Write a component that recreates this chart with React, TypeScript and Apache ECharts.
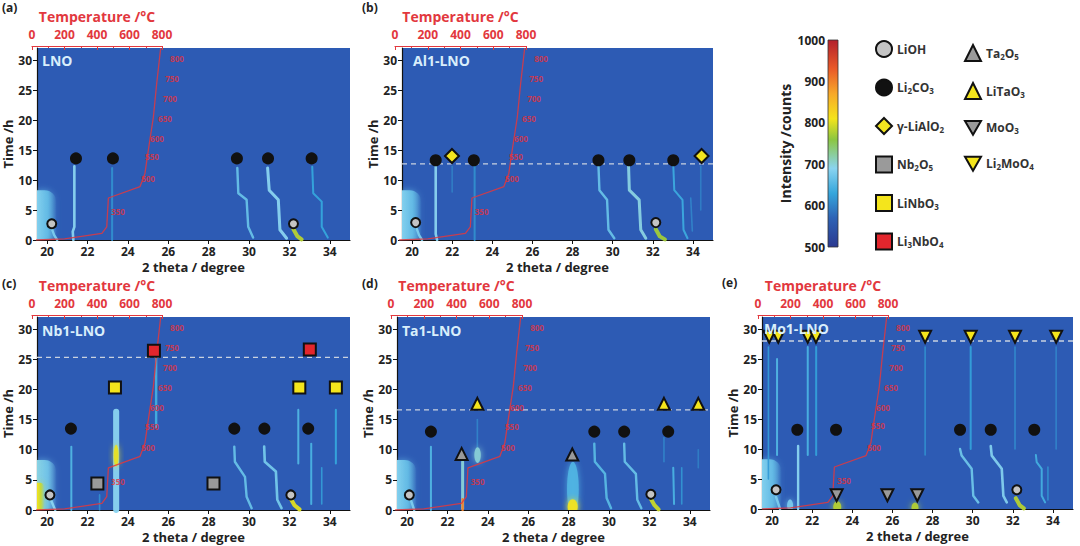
import React, { useEffect, useRef } from "react";
import * as echarts from "echarts";

type Pt = [number, number];
type Trace = { i: number; fw: number; pts: Pt[] };
type Blob = [number, number, number, number, number];

// ---------- axes ----------
const THETA_MIN = 19.5;
const THETA_MAX = 35;
const TIME_MAX = 32;
const THETA_TICKS = [20, 22, 24, 26, 28, 30, 32, 34];
const TIME_TICKS = [0, 5, 10, 15, 20, 25, 30];
const TEMP_MAX = 800;
const TEMP_INTERVAL = 200;
const CB_MIN = 500;
const CB_MAX = 1000;
const CB_INTERVAL = 100;

// ---------- panels ----------
const PANEL_LETTERS = ["(a)", "(b)", "(c)", "(d)", "(e)"];
const SAMPLES = ["LNO", "Al1-LNO", "Nb1-LNO", "Ta1-LNO", "Mo1-LNO"];
const DASH_TIMES: (number | null)[] = [null, 12.7, 25.3, 16.6, 28.0];

// heating profile: [temperature °C, time h]
const TEMP_PROFILE: Pt[] = [
  [25, 0], [200, 0.2], [430, 1.1], [460, 2.2], [470, 7], [665, 8.9],
  [695, 11.1], [716, 15], [747, 20.5], [767, 26], [792, 32],
];
const STEP_LABELS = ["350", "500", "550", "600", "650", "700", "750", "800"];
const STEP_POS: Pt[] = [
  [529, 4.7], [714, 10.3], [738, 13.9], [769, 17], [818, 20.3], [849, 23.6], [862, 27], [892, 30.3],
];

// diffraction traces [2theta, time], i = intensity (counts), fw = peak width (deg)
const tracesA: Trace[] = [
  { i: 690, fw: 0.13, pts: [[21.35, 12.3], [21.35, 2.2], [21.27, 1.4], [21.3, 0]] },
  { i: 610, fw: 0.1, pts: [[23.22, 12], [23.22, 0]] },
  { i: 665, fw: 0.12, pts: [[29.42, 12], [29.47, 7.8], [29.88, 6.7], [29.96, 2.2], [30.2, 0.4]] },
  { i: 690, fw: 0.15, pts: [[30.92, 12], [31.0, 8.3], [31.45, 6.7], [31.53, 1.7], [31.86, 0.3]] },
  { i: 630, fw: 0.1, pts: [[33.13, 12.2], [33.18, 7.8], [33.6, 6.4], [33.6, 2.2], [33.9, 0.4]] },
  { i: 680, fw: 0.12, pts: [[20.2, 2.2], [20.35, 0.8], [20.5, 0]] },
  { i: 780, fw: 0.2, pts: [[32.2, 1.8], [32.4, 0.6], [32.6, 0.1]] },
];
const blobsA: Blob[] = [[19.5, 20.45, 0, 8.3, 665]];

const tracesB: Trace[] = [
  { i: 690, fw: 0.13, pts: [[21.18, 12.3], [21.18, 1], [21.25, 0]] },
  { i: 595, fw: 0.08, pts: [[22.0, 12.3], [22.0, 8]] },
  { i: 610, fw: 0.1, pts: [[23.12, 12.3], [23.12, 0]] },
  { i: 665, fw: 0.12, pts: [[29.29, 12.5], [29.34, 8.3], [29.72, 6.7], [29.79, 1.7], [30.08, 0.3]] },
  { i: 695, fw: 0.15, pts: [[30.79, 12.5], [30.83, 8.3], [31.32, 6.7], [31.4, 1.7], [31.65, 0.3]] },
  { i: 635, fw: 0.1, pts: [[33.02, 12.5], [33.07, 8.3], [33.48, 6.7], [33.53, 1.7], [33.73, 0.3]] },
  { i: 600, fw: 0.08, pts: [[33.89, 7], [33.97, 1.5]] },
  { i: 595, fw: 0.08, pts: [[34.39, 12.3], [34.39, 5]] },
  { i: 680, fw: 0.12, pts: [[20.2, 2.2], [20.35, 0.8], [20.5, 0]] },
  { i: 770, fw: 0.2, pts: [[32.15, 1.8], [32.35, 0.6], [32.6, 0.1]] },
];
const blobsB: Blob[] = [[19.5, 20.45, 0, 8.3, 665]];

const tracesC: Trace[] = [
  { i: 650, fw: 0.1, pts: [[21.2, 10.5], [21.2, 0]] },
  { i: 610, fw: 0.08, pts: [[22.6, 2.5], [22.6, 0]] },
  { i: 690, fw: 0.3, pts: [[23.42, 16.3], [23.42, 0]] },
  { i: 640, fw: 0.12, pts: [[25.4, 25.2], [25.4, 13.8]] },
  { i: 665, fw: 0.12, pts: [[29.27, 10.5], [29.3, 8], [29.8, 5.5], [29.88, 2.2], [30.13, 0.3]] },
  { i: 675, fw: 0.13, pts: [[30.75, 10.5], [30.78, 8], [31.33, 6.4], [31.4, 1.7], [31.61, 0.3]] },
  { i: 650, fw: 0.1, pts: [[32.44, 16.6], [32.44, 7.7]] },
  { i: 645, fw: 0.1, pts: [[33.08, 11], [33.08, 1]] },
  { i: 620, fw: 0.08, pts: [[33.6, 7], [33.6, 1]] },
  { i: 630, fw: 0.1, pts: [[34.3, 16.6], [34.3, 7.7]] },
  { i: 690, fw: 0.12, pts: [[20.15, 2], [20.4, 0]] },
  { i: 800, fw: 0.2, pts: [[32.05, 2], [32.25, 0.8], [32.5, 0.1]] },
];
const blobsC: Blob[] = [[19.5, 20.45, 0, 8.3, 675], [19.5, 19.85, 0, 4.5, 790], [23.3, 23.54, 7.2, 10.8, 805]];

const tracesD: Trace[] = [
  { i: 650, fw: 0.1, pts: [[21.18, 10.5], [21.18, 0]] },
  { i: 700, fw: 0.15, pts: [[22.75, 8], [22.75, 0.3]] },
  { i: 900, fw: 0.12, pts: [[22.75, 1.8], [22.75, 0]] },
  { i: 600, fw: 0.08, pts: [[23.48, 15], [23.48, 10]] },
  { i: 655, fw: 0.12, pts: [[29.27, 11], [29.3, 8], [29.8, 6], [29.88, 2], [30.1, 0.3]] },
  { i: 665, fw: 0.12, pts: [[30.75, 11], [30.78, 8], [31.33, 6], [31.4, 1.7], [31.6, 0.3]] },
  { i: 600, fw: 0.08, pts: [[32.72, 12], [32.72, 8]] },
  { i: 645, fw: 0.1, pts: [[33.18, 7], [33.22, 1]] },
  { i: 615, fw: 0.08, pts: [[33.6, 7], [33.6, 1]] },
  { i: 595, fw: 0.08, pts: [[34.42, 10], [34.42, 7]] },
  { i: 680, fw: 0.12, pts: [[20.15, 2], [20.35, 0]] },
  { i: 790, fw: 0.2, pts: [[32.05, 2], [32.25, 0.8], [32.45, 0.1]] },
];
const blobsD: Blob[] = [
  [19.5, 20.45, 0, 8.3, 665], [23.33, 23.65, 7.8, 10.4, 700], [27.92, 28.5, -1, 8, 650], [27.95, 28.45, -0.8, 1.8, 810],
];

const tracesE: Trace[] = [
  { i: 620, fw: 0.08, pts: [[19.82, 27], [19.82, 5]] },
  { i: 650, fw: 0.1, pts: [[20.25, 25], [20.25, 9]] },
  { i: 690, fw: 0.12, pts: [[21.3, 10.5], [21.3, 0]] },
  { i: 645, fw: 0.1, pts: [[21.78, 27], [21.78, 9]] },
  { i: 625, fw: 0.1, pts: [[22.2, 27], [22.2, 9]] },
  { i: 610, fw: 0.08, pts: [[27.63, 27], [27.63, 9]] },
  { i: 625, fw: 0.1, pts: [[29.9, 27], [29.9, 10]] },
  { i: 605, fw: 0.08, pts: [[32.11, 27], [32.11, 10]] },
  { i: 600, fw: 0.08, pts: [[34.16, 27], [34.16, 10]] },
  { i: 670, fw: 0.12, pts: [[29.37, 10], [29.45, 8.9], [29.95, 6.7], [30.03, 2.2], [30.28, 1.1]] },
  { i: 685, fw: 0.13, pts: [[30.9, 10.5], [30.95, 8.9], [31.45, 6.7], [31.53, 2.2], [31.7, 1.1]] },
  { i: 640, fw: 0.1, pts: [[33.15, 9], [33.19, 7.8], [33.44, 6.7], [33.44, 2.2], [33.61, 1.1]] },
  { i: 610, fw: 0.08, pts: [[33.75, 7], [33.75, 1.5]] },
  { i: 680, fw: 0.12, pts: [[20.2, 2], [20.4, 0]] },
  { i: 780, fw: 0.2, pts: [[32.15, 1.8], [32.35, 0.6], [32.55, 0.1]] },
];
const blobsE: Blob[] = [
  [19.5, 20.45, 0, 8.3, 665], [23.05, 23.45, -0.6, 1.3, 780], [26.95, 27.3, -0.6, 1.1, 780], [20.75, 21.05, -0.4, 1.6, 680],
];

// phase markers [2theta, time]
const markersA: Record<string, Pt[]> = {
  LiOH: [[20.23, 2.7], [32.2, 2.7]],
  Li2CO3: [[21.43, 13.6], [23.26, 13.6], [29.4, 13.6], [30.94, 13.6], [33.1, 13.6]],
};
const markersB: Record<string, Pt[]> = {
  LiOH: [[20.18, 2.9], [32.15, 2.9]],
  Li2CO3: [[21.18, 13.3], [23.08, 13.3], [29.29, 13.3], [30.83, 13.3], [33.02, 13.3]],
  "γ-LiAlO2": [[21.99, 14], [34.43, 14]],
};
const markersC: Record<string, Pt[]> = {
  LiOH: [[20.14, 2.5], [32.07, 2.5]],
  Li2CO3: [[21.18, 13.5], [29.27, 13.5], [30.76, 13.5], [32.93, 13.5]],
  Nb2O5: [[22.49, 4.4], [28.24, 4.4]],
  LiNbO3: [[23.36, 20.3], [32.49, 20.3], [34.3, 20.3]],
  Li3NbO4: [[25.29, 26.4], [33.01, 26.6]],
};
const markersD: Record<string, Pt[]> = {
  LiOH: [[20.11, 2.5], [32.07, 2.6]],
  Li2CO3: [[21.18, 13], [29.27, 13], [30.75, 13], [32.93, 13]],
  Ta2O5: [[22.7, 9.3], [28.18, 9.2]],
  LiTaO3: [[23.48, 17.6], [32.72, 17.6], [34.42, 17.6]],
};
const markersE: Record<string, Pt[]> = {
  LiOH: [[20.2, 3.2], [32.2, 3.2]],
  Li2CO3: [[21.26, 13.2], [23.19, 13.2], [29.37, 13.2], [30.9, 13.2], [33.07, 13.2]],
  MoO3: [[23.22, 2.3], [25.75, 2.3], [27.24, 2.3]],
  Li2MoO4: [[19.86, 28.7], [20.31, 28.7], [21.78, 28.7], [22.19, 28.7], [27.63, 28.7], [29.9, 28.7], [32.11, 28.7], [34.16, 28.7]],
};

const LEGEND_COL1 = ["LiOH", "Li2CO3", "γ-LiAlO2", "Nb2O5", "LiNbO3", "Li3NbO4"];
const LEGEND_COL2 = ["Ta2O5", "LiTaO3", "MoO3", "Li2MoO4"];

// ---------- styles ----------
const FONT = "Open Sans";
const RED = "#e2383e";
const DARK = "#222";
const BG_BLUE = "#2d5bb4";
const CMAP: [number, string][] = [
  [500, "#2b3990"], [570, "#2d62b5"], [630, "#35a6dc"], [690, "#8ad4f0"], [760, "#8cc640"],
  [810, "#f4e41b"], [870, "#f7a92a"], [930, "#ea5a29"], [1000, "#b3202b"],
];
const INV_TRIANGLE = "path://M0,0L20,0L10,17.3Z";
const PHASE_STYLE: Record<string, { symbol: string; fill: string; size: number }> = {
  LiOH: { symbol: "circle", fill: "#c4c4c4", size: 9 },
  Li2CO3: { symbol: "circle", fill: "#111111", size: 10 },
  "γ-LiAlO2": { symbol: "diamond", fill: "#f2e520", size: 14 },
  Nb2O5: { symbol: "rect", fill: "#9a9a9a", size: 12 },
  LiNbO3: { symbol: "rect", fill: "#f4e51c", size: 12 },
  Li3NbO4: { symbol: "rect", fill: "#e3262d", size: 12 },
  Ta2O5: { symbol: "triangle", fill: "#9a9a9a", size: 12 },
  LiTaO3: { symbol: "triangle", fill: "#f4e51c", size: 12 },
  MoO3: { symbol: INV_TRIANGLE, fill: "#9a9a9a", size: 12 },
  Li2MoO4: { symbol: INV_TRIANGLE, fill: "#f4e51c", size: 12 },
};

const LAYOUT = [
  { main: { left: 37, top: 48, width: 313, height: 192 }, temp: { left: 32, width: 130 }, letter: [2, 8], sample: [42, 62] },
  { main: { left: 402, top: 48, width: 311, height: 192 }, temp: { left: 395, width: 131 }, letter: [362, 8], sample: [413, 62] },
  { main: { left: 37, top: 317, width: 313, height: 193 }, temp: { left: 32, width: 130 }, letter: [2, 284], sample: [42, 332] },
  { main: { left: 397, top: 317, width: 313, height: 193 }, temp: { left: 391, width: 131 }, letter: [362, 284], sample: [402, 332] },
  { main: { left: 762, top: 317, width: 311, height: 192 }, temp: { left: 758, width: 130 }, letter: [722, 283], sample: [764, 330] },
];

function hexToRgb(h: string) {
  const n = parseInt(h.slice(1), 16);
  return [(n >> 16) & 255, (n >> 8) & 255, n & 255];
}
function rgbAt(v: number): number[] {
  if (v <= CMAP[0][0]) return hexToRgb(CMAP[0][1]);
  for (let k = 1; k < CMAP.length; k++) {
    if (v <= CMAP[k][0]) {
      const [v0, c0] = CMAP[k - 1];
      const [v1, c1] = CMAP[k];
      const t = (v - v0) / (v1 - v0);
      const a = hexToRgb(c0), b = hexToRgb(c1);
      return a.map((x, j) => Math.round(x + (b[j] - x) * t));
    }
  }
  return hexToRgb(CMAP[CMAP.length - 1][1]);
}
function colorAt(v: number, alpha = 1) {
  const r = rgbAt(v);
  return `rgba(${r[0]},${r[1]},${r[2]},${alpha})`;
}

function sub(name: string) {
  return name.replace(/(\d)/g, "{s|$1}");
}

function blobRender(params: any, api: any) {
  const x0 = api.value(0);
  const p0 = api.coord([x0, api.value(3)]);
  const p1 = api.coord([api.value(1), api.value(2)]);
  const v = api.value(4);
  const w = p1[0] - p0[0];
  const h = p1[1] - p0[1];
  if (x0 <= THETA_MIN) {
    return {
      type: "rect",
      shape: { x: p0[0], y: p0[1], width: w, height: h, r: [0, w * 0.6, 0, 0] },
      style: {
        fill: new echarts.graphic.LinearGradient(0, 0, 1, 0, [
          { offset: 0, color: colorAt(v + 20, 1) },
          { offset: 0.55, color: colorAt(v, 0.85) },
          { offset: 1, color: colorAt(v, 0.05) },
        ]),
        shadowBlur: 6,
        shadowColor: colorAt(v, 0.7),
      },
    };
  }
  return {
    type: "ellipse",
    shape: { cx: p0[0] + w / 2, cy: p0[1] + h / 2, rx: w / 2, ry: h / 2 },
    style: { fill: colorAt(v, 0.9), shadowBlur: 6, shadowColor: colorAt(v, 0.9) },
  };
}

function buildOption() {
  const panels = [
    { traces: tracesA, blobs: blobsA, markers: markersA },
    { traces: tracesB, blobs: blobsB, markers: markersB },
    { traces: tracesC, blobs: blobsC, markers: markersC },
    { traces: tracesD, blobs: blobsD, markers: markersD },
    { traces: tracesE, blobs: blobsE, markers: markersE },
  ];
  const grids: any[] = [];
  const xAxes: any[] = [];
  const yAxes: any[] = [];
  const series: any[] = [];
  const graphics: any[] = [];

  const tickLabel = { fontFamily: FONT, fontSize: 12, fontWeight: "bold", color: DARK };

  LAYOUT.forEach((L) => {
    grids.push({ ...L.main, show: true, backgroundColor: BG_BLUE, borderWidth: 0 });
  });
  LAYOUT.forEach((L) => {
    grids.push({ left: L.temp.left, width: L.temp.width, top: L.main.top, height: L.main.height, show: false });
  });
  grids.push({ left: 828, top: 40, width: 10, height: 207, show: false });

  LAYOUT.forEach((_, p) => {
    xAxes.push({
      gridIndex: p, type: "value", min: THETA_MIN, max: THETA_MAX,
      name: "2 theta / degree", nameLocation: "middle", nameGap: 20,
      nameTextStyle: { fontFamily: FONT, fontSize: 13, fontWeight: "bold", color: DARK },
      axisLine: { show: true, onZero: false, lineStyle: { color: "#111", width: 1.2 } },
      axisTick: { show: true, customValues: THETA_TICKS, length: 4, lineStyle: { color: "#111" } },
      axisLabel: { ...tickLabel, customValues: THETA_TICKS, margin: 5 },
      splitLine: { show: false },
    });
    yAxes.push({
      gridIndex: p, type: "value", min: 0, max: TIME_MAX,
      name: "Time /h", nameLocation: "middle", nameGap: 22,
      nameTextStyle: { fontFamily: FONT, fontSize: 13, fontWeight: "bold", color: DARK },
      axisLine: { show: true, onZero: false, lineStyle: { color: "#111", width: 1.2 } },
      axisTick: { show: true, customValues: TIME_TICKS, length: 4, lineStyle: { color: "#111" } },
      axisLabel: { ...tickLabel, customValues: TIME_TICKS, margin: 5 },
      splitLine: { show: false },
    });
  });
  LAYOUT.forEach((_, p) => {
    xAxes.push({
      gridIndex: 5 + p, type: "value", position: "top", min: 0, max: TEMP_MAX, interval: TEMP_INTERVAL,
      offset: 2,
      name: "Temperature /°C", nameLocation: "middle", nameGap: 23,
      nameTextStyle: { fontFamily: FONT, fontSize: 14, fontWeight: "bold", color: RED },
      axisLine: { show: true, onZero: false, lineStyle: { color: RED, width: 1.2 } },
      axisTick: { show: true, inside: true, length: 4, lineStyle: { color: RED } },
      minorTick: { show: true, splitNumber: 2, length: 2, lineStyle: { color: RED } },
      axisLabel: { fontFamily: FONT, fontSize: 12, fontWeight: "bold", color: RED, margin: 6 },
      splitLine: { show: false },
    });
    yAxes.push({ gridIndex: 5 + p, type: "value", min: 0, max: TIME_MAX, show: false });
  });
  xAxes.push({ gridIndex: 10, type: "value", min: 0, max: 1, show: false });
  yAxes.push({
    gridIndex: 10, type: "value", min: CB_MIN, max: CB_MAX, interval: CB_INTERVAL,
    name: "Intensity /counts", nameLocation: "middle", nameGap: 36,
    nameTextStyle: { fontFamily: FONT, fontSize: 14, fontWeight: "bold", color: DARK },
    axisLine: { show: false }, axisTick: { show: false },
    axisLabel: { fontFamily: FONT, fontSize: 12, fontWeight: "bold", color: DARK, margin: 3, formatter: (v: number) => String(v) },
    splitLine: { show: false },
  });

  panels.forEach((pn, p) => {
    const L = LAYOUT[p];
    const ppd = L.main.width / (THETA_MAX - THETA_MIN);
    const edgeBlobs = pn.blobs.filter((b) => b[0] <= THETA_MIN);
    const peakBlobs = pn.blobs.filter((b) => b[0] > THETA_MIN);
    series.push({
      type: "custom", xAxisIndex: p, yAxisIndex: p, data: edgeBlobs, silent: true, z: 1, clip: true,
      renderItem: blobRender,
    });
    series.push({
      type: "custom", xAxisIndex: p, yAxisIndex: p, data: peakBlobs, silent: true, z: 3, clip: true,
      renderItem: blobRender,
    });
    pn.traces.forEach((tr) => {
      series.push({
        type: "line", xAxisIndex: p, yAxisIndex: p, data: tr.pts, symbol: "none", showSymbol: false,
        silent: true, z: 2,
        lineStyle: { color: colorAt(tr.i, 0.95), width: Math.max(1.6, tr.fw * ppd), cap: "round", join: "round" },
      });
    });
    const d = DASH_TIMES[p];
    if (d !== null) {
      series.push({
        type: "line", xAxisIndex: p, yAxisIndex: p, data: [[THETA_MIN, d], [THETA_MAX, d]],
        symbol: "none", silent: true, z: 3,
        lineStyle: { color: "#c9d2df", width: 1.3, type: [5, 4] },
      });
    }
    // temperature profile
    series.push({
      type: "line", xAxisIndex: 5 + p, yAxisIndex: 5 + p, data: TEMP_PROFILE, symbol: "none",
      silent: true, z: 4, lineStyle: { color: RED, width: 1.3, opacity: 0.85 },
    });
    series.push({
      type: "scatter", xAxisIndex: 5 + p, yAxisIndex: 5 + p, clip: false, silent: true, z: 4,
      data: STEP_POS.map((v, k) => ({ value: v, name: STEP_LABELS[k] })),
      symbolSize: 1, itemStyle: { color: "transparent" },
      label: { show: true, position: "inside", formatter: "{b}", fontFamily: FONT, fontSize: 8, fontWeight: "bold", color: "#e8313a" },
    });
    Object.keys(pn.markers).forEach((name) => {
      const st = PHASE_STYLE[name];
      series.push({
        type: "scatter", name, xAxisIndex: p, yAxisIndex: p, data: pn.markers[name], silent: true, z: 6,
        symbol: st.symbol, symbolSize: st.size,
        itemStyle: { color: st.fill, borderColor: "#111", borderWidth: 2, opacity: 1 },
      });
    });
    graphics.push({
      type: "text", left: L.letter[0], top: L.letter[1] - 7,
      style: { text: PANEL_LETTERS[p], fontFamily: FONT, fontSize: 12, fontWeight: "bold", fill: DARK },
    });
    graphics.push({
      type: "text", left: L.sample[0], top: L.sample[1] - 9, z: 10,
      style: { text: SAMPLES[p], fontFamily: FONT, fontSize: 14, fontWeight: "bold", fill: "#d9eefb" },
    });
  });

  // colour bar
  const span = CB_MAX - CB_MIN;
  series.push({
    type: "custom", xAxisIndex: 10, yAxisIndex: 10, data: [[0, CB_MIN, CB_MAX]], silent: true,
    renderItem: (params: any, api: any) => {
      const top = api.coord([0, api.value(2)]);
      const bot = api.coord([0, api.value(1)]);
      const cs = params.coordSys;
      return {
        type: "rect",
        shape: { x: cs.x, y: top[1], width: cs.width, height: bot[1] - top[1] },
        style: {
          fill: new echarts.graphic.LinearGradient(0, 1, 0, 0,
            CMAP.map(([v, c]) => ({ offset: (v - CB_MIN) / span, color: c }))),
          stroke: "#333", lineWidth: 0.8,
        },
      };
    },
  });

  const legendText = {
    fontFamily: FONT, fontSize: 12, fontWeight: "bold", color: "#333",
    rich: { s: { fontFamily: FONT, fontSize: 8, fontWeight: "bold", color: "#333", padding: [6, 0, 0, 0] } },
  };
  const legendBase = {
    orient: "vertical", itemWidth: 16, itemHeight: 16, itemGap: 20, padding: 0, selectedMode: false,
    formatter: (n: string) => sub(n), textStyle: legendText,
  };

  return {
    animation: false,
    backgroundColor: "#ffffff",
    textStyle: { fontFamily: FONT },
    grid: grids,
    xAxis: xAxes,
    yAxis: yAxes,
    series,
    graphic: graphics,
    legend: [
      { ...legendBase, data: LEGEND_COL1, left: 875, top: 40, itemGap: 20.5 },
      { ...legendBase, data: LEGEND_COL2, left: 964, top: 44 },
    ],
  };
}

export default function App() {
  const ref = useRef<HTMLDivElement>(null);
  useEffect(() => {
    if (!ref.current) return;
    const chart = echarts.init(ref.current, undefined, { renderer: "svg" });
    chart.setOption(buildOption() as any);
    return () => chart.dispose();
  }, []);
  return (
    <div
      ref={ref}
      style={{ position: "fixed", left: 0, top: 0, width: 1080, height: 546, background: "#fff" }}
    />
  );
}
